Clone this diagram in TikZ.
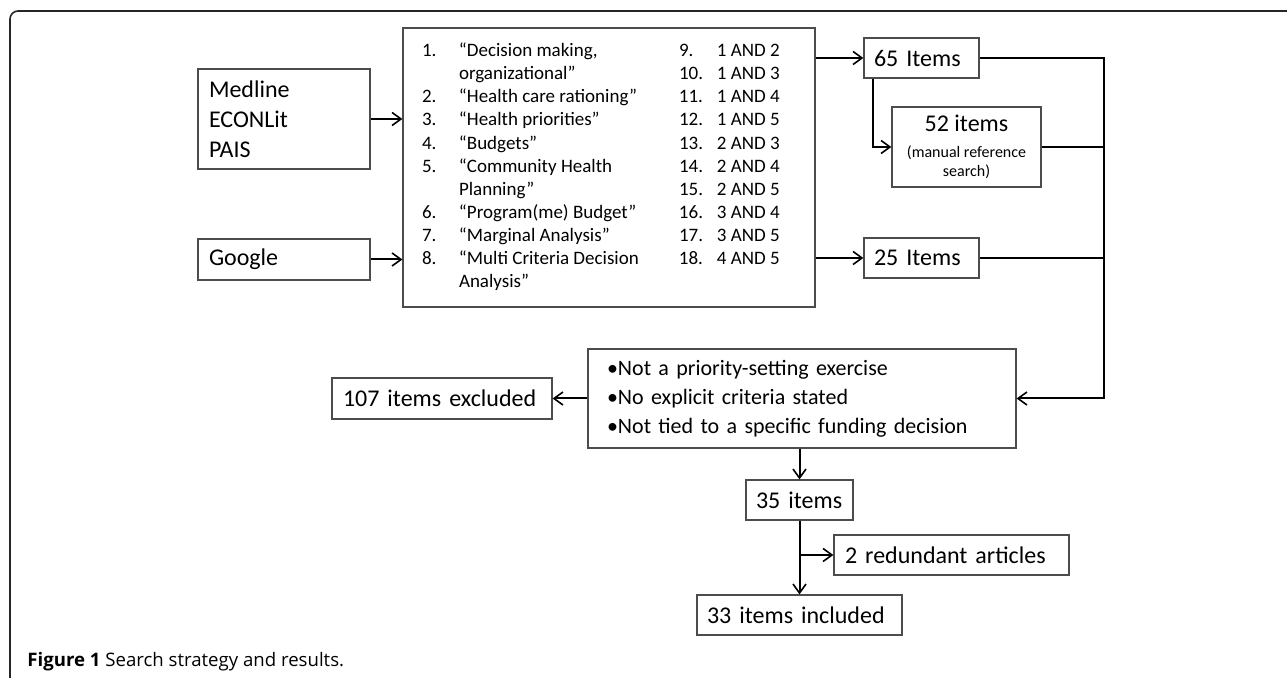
\documentclass[tikz,border=0pt]{standalone}
\usepackage{fontspec}
\setmainfont{Carlito}
\newfontfamily\capfont{Open Sans}
\usetikzlibrary{arrows.meta}
\begin{document}
\begin{tikzpicture}[x=0.5pt,y=-0.5pt,
  box/.style={draw=black!70, line width=0.6pt, rectangle, inner ysep=0pt,
    font=\fontsize{12}{15}\selectfont},
  lbox/.style={box, align=left},
  conn/.style={line width=1pt, black},
  arr/.style={conn, -{Straight Barb[length=4.5pt,width=6.5pt,line width=0.8pt]}},
]
\useasboundingbox (0,0) rectangle (1287,678);
% outer frame
\draw[line width=0.8pt, black!85, rounded corners=4pt] (1287,11) -- (10,11) -- (10,678);

% sources
\node[lbox, text width=75pt, inner xsep=5.5pt, minimum height=50pt] (src) at (284,119)
  {Medline\\ECONLit\\PAIS};
\node[lbox, text width=75pt, inner xsep=5.5pt, minimum height=20.5pt] (google) at (284,259.5)
  {Google};

% search terms
\node[box, minimum width=206pt, minimum height=139.5pt, inner sep=0pt] (terms) at (609,167.5)
  {\fontsize{9.5}{11.55}\selectfont
   \begin{tabular}{@{}p{18.5pt}@{}p{110pt}@{}p{19pt}@{}p{39.5pt}@{}}
   1. & “Decision making, & 9. & 1 AND 2\\
      & organizational” & 10. & 1 AND 3\\
   2. & “Health care rationing” & 11. & 1 AND 4\\
   3. & “Health priorities” & 12. & 1 AND 5\\
   4. & “Budgets” & 13. & 2 AND 3\\
   5. & “Community Health & 14. & 2 AND 4\\
      & Planning” & 15. & 2 AND 5\\
   6. & “Program(me) Budget” & 16. & 3 AND 4\\
   7. & “Marginal Analysis” & 17. & 3 AND 5\\
   8. & “Multi Criteria Decision & 18. & 4 AND 5\\
      & Analysis” & & \\
   \end{tabular}};

% results
\node[lbox, text width=47.5pt, inner xsep=5pt, minimum height=20pt] (i65) at (921.5,58) {65 Items};
\node[box, minimum width=74.5pt, minimum height=40pt, inner sep=0pt] (i52) at (966.5,147)
  {\parbox{68pt}{\centering\fontsize{12}{13}\selectfont 52 items\par\vspace{3.3pt}%
   \fontsize{8}{9.5}\selectfont (manual reference search)\par}};
\node[lbox, text width=47.5pt, inner xsep=5pt, minimum height=20pt] (i25) at (921.5,258) {25 Items};

% criteria
\node[lbox, text width=195pt, inner xsep=9.5pt, minimum height=49.5pt,
  font=\fontsize{11}{14.5}\selectfont] (crit) at (802,398.5)
  {\hyphenpenalty=10000\relax •Not a priority-setting exercise\\•No explicit criteria stated\\•Not tied to a specific funding decision};
\node[lbox, text width=99pt, inner xsep=5.5pt, minimum height=20.5pt] (excl) at (442,398.5) {107 items excluded};
\node[lbox, text width=43.5pt, inner xsep=5pt, minimum height=20pt] (i35) at (799.5,500) {35 items};
\node[lbox, text width=106.5pt, inner xsep=5.5pt, minimum height=20pt] (red) at (951.5,555) {2 redundant articles};
\node[lbox, text width=92.5pt, inner xsep=5pt, minimum height=20pt] (incl) at (799.5,615) {33 items included};

\coordinate (busend) at (1104,398.5);

% connectors
\draw[arr] (src.east) -- (src.east -| terms.west);
\draw[arr] (google.east) -- (google.east -| terms.west);
\draw[arr] (i65.west -| terms.east) -- (i65.west);
\draw[arr] (i25.west -| terms.east) -- (i25.west);
\draw[arr] ([xshift=5pt]i65.south west) |- (i52.west);
\draw[arr] (i65.east) -| (busend) -- (crit.east);
\draw[conn] (i52.east) -- (i52.east -| busend);
\draw[conn] (i25.east) -- (i25.east -| busend);
\draw[arr] (crit.west) -- (excl.east);
\draw[arr] (i35.north |- crit.south) -- (i35.north);
\draw[arr] (i35.south) -- (incl.north);
\draw[arr] (red.west -| i35.south) -- (red.west);

% caption
\node[anchor=base west, inner sep=0pt, font=\capfont\fontsize{9.3}{11}\selectfont] (cap) at (27,667)
  {\textbf{Figure 1} Search strategy and results.};
\end{tikzpicture}
\end{document}
